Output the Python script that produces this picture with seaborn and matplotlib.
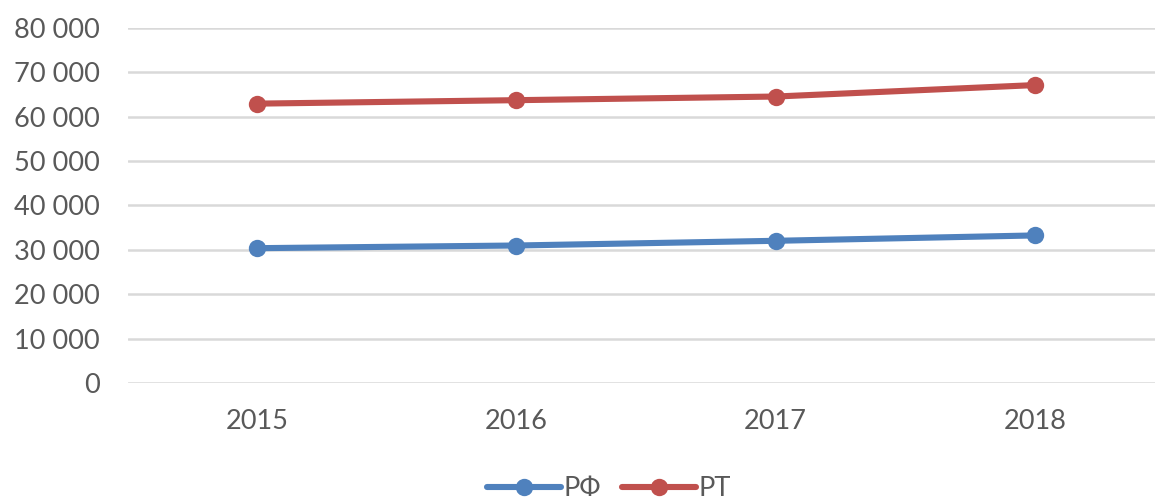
import matplotlib
matplotlib.use("Agg")
import matplotlib.pyplot as plt
import pandas as pd
import seaborn as sns
from matplotlib.ticker import FuncFormatter

# Values per year
years = ["2015", "2016", "2017", "2018"]
rf_values = [30380, 30980, 32040, 33250]
rt_values = [62950, 63730, 64550, 67130]
series_names = ["РФ", "РТ"]
colors = ["#4F81BD", "#C0504D"]
y_ticks = [0, 10000, 20000, 30000, 40000, 50000, 60000, 70000, 80000]

df = pd.DataFrame({
    "year": years * 2,
    "value": rf_values + rt_values,
    "series": [series_names[0]] * len(years) + [series_names[1]] * len(years),
})

sns.set_theme(style="white")
plt.rcParams["font.family"] = ["Lato", "DejaVu Sans"]

fig = plt.figure(figsize=(11.55, 5.04), dpi=100)
ax = fig.add_axes([0.1104, 0.2401, 0.8978, 0.7044])

sns.lineplot(
    data=df, x="year", y="value", hue="series", palette=colors,
    marker="o", markersize=12.5, markeredgewidth=0, linewidth=4.4,
    sort=False, ax=ax, legend=False,
)

ax.set_xlim(-0.5, 3.5)
ax.set_ylim(0, 80000)
ax.set_yticks(y_ticks)
ax.yaxis.set_major_formatter(FuncFormatter(lambda v, p: f"{int(v):,}".replace(",", " ")))
ax.grid(axis="y", color="#D9D9D9", linewidth=1.8)
ax.set_axisbelow(True)
for s in ax.spines.values():
    s.set_visible(False)
ax.set_xlabel("")
ax.set_ylabel("")
ax.tick_params(axis="both", length=0, labelsize=19.5, labelcolor="#595959")
ax.tick_params(axis="y", pad=20)
ax.tick_params(axis="x", pad=19)

handles = [
    plt.Line2D([], [], color=c, linewidth=4.4, marker="o", markersize=12.5,
               markeredgewidth=0)
    for c in colors
]
fig.legend(handles, series_names, loc="center", bbox_to_anchor=(609 / 1155, 0.03),
           ncol=2, frameon=False, fontsize=19.5, labelcolor="#595959",
           handlelength=2.7, handletextpad=0.1, columnspacing=0.8,
           borderpad=0.2)

fig.savefig("out.png", dpi=100)
